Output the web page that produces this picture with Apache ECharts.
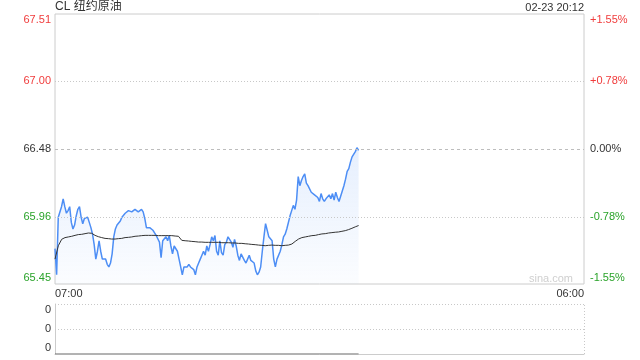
<!DOCTYPE html>
<html><head><meta charset="utf-8">
<script src="https://cdn.jsdelivr.net/npm/echarts@6/dist/echarts.min.js"></script>
<style>html,body{margin:0;padding:0;background:#fff}#c{width:640px;height:360px}</style>
</head><body><div id="c"></div>
<script>
const chartTitle = 'CL 纽约原油';
const stamp = '02-23 20:12';
const watermark = 'sina.com';
const prevClose = 66.48;
const priceTicks = [67.51, 67.00, 66.48, 65.96, 65.45];
const priceTickLabels = ['67.51', '67.00', '66.48', '65.96', '65.45'];
const pctTicks = [1.55, 0.78, 0, -0.78, -1.55];
const pctTickLabels = ['+1.55%', '+0.78%', '0.00%', '-0.78%', '-1.55%'];
const timeTicks = [0, 1380];            // minutes after 07:00
const timeTickLabels = ['07:00', '06:00'];
const lastMinute = 792;                 // 20:12
const volTicks = [0, 1, 2];
const volTickLabels = ['0', '0', '0'];
const volumes = [0, 0];                 // 07:00 and 20:12

const prices = [
65.72,65.52,65.96,65.95,66.04,66.10,66.04,65.99,66.01,66.04,
65.92,65.87,65.90,65.97,66.02,66.04,65.96,65.91,65.95,65.95,
65.96,65.92,65.88,65.83,65.75,65.64,65.70,65.78,65.70,65.64,
65.63,65.64,65.60,65.58,65.61,65.68,65.81,65.87,65.90,65.91,
65.93,65.96,65.95,65.99,65.99,66.01,66.00,66.00,66.01,66.02,
66.01,66.00,66.01,66.02,66.00,65.95,65.88,65.87,65.88,65.87,
65.86,65.84,65.82,65.81,65.77,65.65,65.78,65.79,65.81,65.78,
65.82,65.74,65.68,65.74,65.73,65.70,65.64,65.58,65.52,65.58,
65.59,65.58,65.60,65.58,65.59,65.56,65.52,65.58,65.61,65.64,
65.67,65.70,65.67,65.74,65.70,65.75,65.81,65.78,65.82,65.70,
65.67,65.78,65.69,65.67,65.75,65.77,65.81,65.82,65.77,65.73,
65.79,65.74,65.67,65.63,65.68,65.69,65.63,65.61,65.64,65.67,
65.63,65.64,65.61,65.55,65.52,65.54,65.58,65.70,65.81,65.91,
65.86,65.81,65.82,65.78,65.64,65.58,65.64,65.65,65.70,65.75,
65.81,65.83,65.87,65.88,65.97,66.01,66.05,66.02,66.09,66.27,
66.20,66.24,66.27,66.29,66.22,66.20,66.19,66.15,66.16,66.13,
66.14,66.11,66.08,66.14,66.10,66.08,66.10,66.09,66.13,66.10,
66.14,66.09,66.15,66.11,66.08,66.09,66.16,66.20,66.25,66.31,
66.33,66.38,66.42,66.41,66.46,66.49,66.47
];

const avgPrices = [
65.640,65.742,65.791,65.804,65.809,65.814,65.821,65.827,65.829,65.834,
65.839,65.837,65.821,65.811,65.804,65.798,65.796,65.793,65.793,65.796,
65.798,65.804,65.806,65.809,65.814,65.816,65.819,65.821,65.821,65.821,
65.821,65.819,65.819,65.819,65.819,65.819,65.816,65.814,65.783,65.780,
65.778,65.775,65.773,65.770,65.770,65.768,65.768,65.768,65.768,65.768,
65.765,65.765,65.765,65.763,65.763,65.760,65.760,65.757,65.755,65.752,
65.750,65.747,65.745,65.742,65.745,65.747,65.745,65.745,65.742,65.745,
65.747,65.755,65.775,65.793,65.804,65.809,65.814,65.819,65.821,65.827,
65.832,65.834,65.839,65.842,65.845,65.847,65.852,65.857,65.865,65.875,
65.886,65.896
];

const RED = '#f03c3c', GREEN = '#2aa32a', TXT = '#333', BORDER = '#cccccc';
const FONT = '"Liberation Sans", Arial, "Noto Sans CJK SC", sans-serif';

function spread(arr) {
  return arr.map((v, i) => [i * lastMinute / (arr.length - 1), v]);
}
function findIdx(ticks, v) {
  return ticks.findIndex(t => Math.abs(t - v) < 1e-6);
}
function styleKey(i, n, dir) {
  let s = dir;
  if (i === 0) s += 'T';
  if (i === n - 1) s += 'B';
  return s;
}
function makeRich(fs) {
  const r = {};
  [['up', RED], ['dn', GREEN], ['fl', TXT]].forEach(([k, c]) => {
    r[k] = { color: c, fontSize: fs, fontFamily: FONT };
    r[k + 'T'] = { color: c, fontSize: fs, fontFamily: FONT, padding: [12, 0, 0, 0] };
    r[k + 'B'] = { color: c, fontSize: fs, fontFamily: FONT, padding: [0, 0, 12, 0] };
  });
  return r;
}
const rich = makeRich(11);

const dotted = { color: '#c8c8c8', width: 1, type: [1, 2] };

const chart = echarts.init(document.getElementById('c'), null, { renderer: 'canvas' });
chart.setOption({
  animation: false,
  textStyle: { fontFamily: FONT },
  title: [
    { text: chartTitle, left: 55, top: 1, padding: 0,
      textStyle: { fontSize: 12, fontWeight: 'normal', color: TXT, fontFamily: FONT } },
    { text: stamp, right: 56, top: 2, padding: 0,
      textStyle: { fontSize: 11, fontWeight: 'normal', color: TXT, fontFamily: FONT } },
    { text: watermark, right: 67, top: 273, padding: 0,
      textStyle: { fontSize: 11, fontWeight: 'normal', color: '#cfcfcf', fontFamily: FONT } }
  ],
  grid: [
    { left: 55, right: 56, top: 14, height: 270, show: true, borderColor: BORDER, borderWidth: 1,
      outerBoundsMode: 'none', containLabel: false },
    { left: 55, right: 56, top: 304, height: 50, show: false,
      outerBoundsMode: 'none', containLabel: false }
  ],
  xAxis: [
    { type: 'value', gridIndex: 0, min: 0, max: 1380,
      axisLine: { show: false }, axisTick: { show: false }, splitLine: { show: false },
      axisLabel: { customValues: timeTicks, margin: 4, fontSize: 11, color: TXT, fontFamily: FONT,
        alignMinLabel: 'left', alignMaxLabel: 'right',
        formatter: v => { const i = findIdx(timeTicks, v); return i < 0 ? '' : timeTickLabels[i]; } } },
    { type: 'value', gridIndex: 1, min: 0, max: 1380,
      axisLine: { show: true, onZero: false, lineStyle: { color: BORDER } },
      axisTick: { show: false }, splitLine: { show: false }, axisLabel: { show: false } }
  ],
  yAxis: [
    { type: 'value', gridIndex: 0, min: priceTicks[priceTicks.length - 1], max: priceTicks[0],
      axisLine: { show: false }, axisTick: { show: false }, splitLine: { show: false },
      axisLabel: { customValues: priceTicks, margin: 4, rich: rich,
        formatter: v => {
          const i = findIdx(priceTicks, v); if (i < 0) return '';
          const t = priceTicks[i];
          const d = t > prevClose + 1e-6 ? 'up' : (t < prevClose - 1e-6 ? 'dn' : 'fl');
          return '{' + styleKey(i, priceTicks.length, d) + '|' + priceTickLabels[i] + '}';
        } } },
    { type: 'value', gridIndex: 0, position: 'right', min: pctTicks[pctTicks.length - 1], max: pctTicks[0],
      axisLine: { show: false }, axisTick: { show: false }, splitLine: { show: false },
      axisLabel: { customValues: pctTicks, margin: 6, rich: rich,
        formatter: v => {
          const i = findIdx(pctTicks, v); if (i < 0) return '';
          const t = pctTicks[i];
          const d = t > 1e-6 ? 'up' : (t < -1e-6 ? 'dn' : 'fl');
          return '{' + styleKey(i, pctTicks.length, d) + '|' + pctTickLabels[i] + '}';
        } } },
    { type: 'value', gridIndex: 1, min: volTicks[0], max: volTicks[volTicks.length - 1],
      axisLine: { show: true, lineStyle: { color: BORDER } }, axisTick: { show: false }, splitLine: { show: false },
      axisLabel: { customValues: volTicks, margin: 4, rich: rich,
        formatter: v => {
          const i = findIdx(volTicks, v); if (i < 0) return '';
          const k = 'fl' + (i === volTicks.length - 1 ? 'T' : (i === 0 ? 'B' : ''));
          return '{' + k + '|' + volTickLabels[i] + '}';
        } } }
  ],
  series: [
    { type: 'line', name: 'price', xAxisIndex: 0, yAxisIndex: 0, data: spread(prices),
      showSymbol: false, symbol: 'none', z: 3,
      lineStyle: { color: '#4d8ef5', width: 1.5 },
      areaStyle: { origin: 'start', color: new echarts.graphic.LinearGradient(0, 0, 0, 1, [
        { offset: 0, color: 'rgba(77,142,245,0.2)' },
        { offset: 1, color: 'rgba(77,142,245,0.03)' }]) },
      markLine: { silent: true, symbol: ['none', 'none'], label: { show: false }, animation: false,
        data: [
          { yAxis: priceTicks[1], lineStyle: dotted },
          { yAxis: priceTicks[2], lineStyle: { color: '#bdbdbd', width: 1, type: [3, 3] } },
          { yAxis: priceTicks[3], lineStyle: dotted }
        ] } },
    { type: 'line', name: 'avg', xAxisIndex: 0, yAxisIndex: 0, data: spread(avgPrices),
      showSymbol: false, symbol: 'none', z: 4,
      lineStyle: { color: '#333333', width: 1 } },
    { type: 'line', name: 'vol', xAxisIndex: 1, yAxisIndex: 2, data: spread(volumes),
      showSymbol: false, symbol: 'none', z: 5,
      lineStyle: { color: '#666666', width: 1 },
      markLine: { silent: true, symbol: ['none', 'none'], label: { show: false }, animation: false,
        data: [
          { yAxis: volTicks[1], lineStyle: dotted },
          { yAxis: volTicks[2], lineStyle: dotted },
          { xAxis: timeTicks[1], lineStyle: dotted }
        ] } }
  ]
});
</script>
</body></html>
